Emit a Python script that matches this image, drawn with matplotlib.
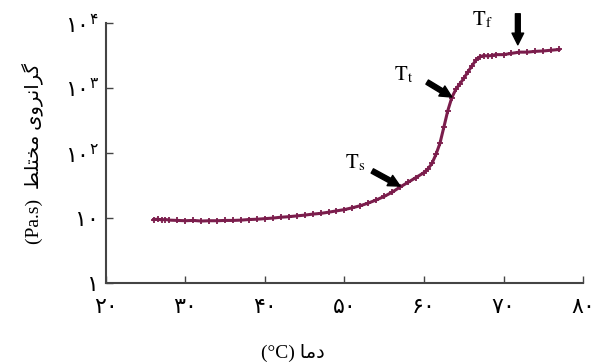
import matplotlib
matplotlib.use("Agg")
import matplotlib.pyplot as plt

# temperature (C) and complex viscosity (Pa.s)
temps = [26, 26.5, 27, 27.5, 28, 29, 30, 31, 32, 33, 34, 35, 36, 37, 38, 39,
         40, 41, 42, 43, 44, 45, 46, 47, 48, 49, 50, 51, 52, 53, 54, 55, 56,
         57, 58, 59, 60, 60.5, 61, 61.5, 62, 62.5, 63, 63.5, 64, 64.5, 65,
         65.5, 66, 66.5, 67, 67.5, 68, 68.5, 69, 70, 71, 72, 73, 74, 75, 76, 77]
visc = [9.5, 9.6, 9.4, 9.5, 9.3, 9.2, 9.1, 9.2, 9.0, 9.1, 9.1, 9.2, 9.2, 9.3,
        9.5, 9.6, 9.8, 10.0, 10.3, 10.5, 10.8, 11.1, 11.5, 11.8, 12.3, 12.9,
        13.5, 14.4, 15.5, 17, 19, 21.5, 25, 30, 35.5, 42, 50, 57, 69, 95, 140,
        250, 450, 710, 950, 1150, 1400, 1750, 2150, 2650, 3000, 3150, 3100,
        3150, 3250, 3250, 3400, 3550, 3550, 3650, 3700, 3800, 3900]

xticks = [20, 30, 40, 50, 60, 70, 80]
xtick_labels = ["۲۰", "۳۰", "۴۰", "۵۰", "۶۰", "۷۰", "۸۰"]
yticks = [1, 10, 100, 1000, 10000]
ytick_labels = ["۱", "۱۰", "$۱۰^{۲}$", "$۱۰^{۳}$", "$۱۰^{۴}$"]

# (label, arrow tip, arrow tail, label position)
marks = [
    (r"$\mathrm{T}_\mathrm{s}$", (57.0, 31), (53.5, 53), (51.3, 70)),
    (r"$\mathrm{T}_\mathrm{t}$", (63.5, 725), (60.4, 1230), (57.4, 1580)),
    (r"$\mathrm{T}_\mathrm{f}$", (71.8, 4600), (71.8, 13800), (67.4, 11000)),
]

# persian text pre-shaped (presentation forms, visual order)
ylab = "(Pa.s)  " + "\uFEC2\uFEE0\uFE98\uFEA8\uFEE3" + " " + \
       "\uFBFC\uFEED\uFEAE\uFEE7\uFE8D\uFEAE\uFB94"
xlab = "(°C) " + "\uFE8E\uFEE3\uFEA9"

plt.rcParams["font.family"] = ["Liberation Serif", "DejaVu Sans"]

fig = plt.figure(figsize=(5.98, 3.63), dpi=100)
ax = fig.add_axes([0.177, 0.22, 0.798, 0.717])

ax.plot(temps, visc, color="#7b1d4c", lw=2.2, marker="+", ms=4, mew=1.3)
ax.set_yscale("log")
ax.set_xlim(20, 80)
ax.set_ylim(1, 10000)

ax.set_xticks(xticks)
ax.set_xticklabels(xtick_labels, fontsize=16, family="DejaVu Sans")
ax.set_yticks(yticks)
ax.set_yticklabels(ytick_labels, fontsize=16, family="DejaVu Sans")
for t in ax.get_yticklabels():
    t.set_math_fontfamily("dejavusans")
ax.minorticks_off()
ax.tick_params(direction="in", length=5, width=1, color="#444444")
ax.tick_params(axis="x", pad=10)
ax.tick_params(axis="y", pad=5)

for s in ["top", "right"]:
    ax.spines[s].set_visible(False)
for s in ["left", "bottom"]:
    ax.spines[s].set_color("#444444")
    ax.spines[s].set_linewidth(1.5)

ax.set_ylabel(ylab, fontsize=14)
ax.yaxis.set_label_coords(-0.13, 0.5)
ax.set_xlabel(xlab, fontsize=14)
ax.xaxis.set_label_coords(0.392, -0.235)

for lab, tip, tail, pos in marks:
    ax.annotate("", xy=tip, xytext=tail, annotation_clip=False,
                arrowprops=dict(arrowstyle="simple,head_length=0.6,head_width=0.6,tail_width=0.25",
                                color="black", mutation_scale=14, shrinkA=0, shrinkB=0))
    ax.text(pos[0], pos[1], lab, fontsize=15, ha="center", va="center",
            math_fontfamily="stix")

fig.savefig("out.png", dpi=100)
